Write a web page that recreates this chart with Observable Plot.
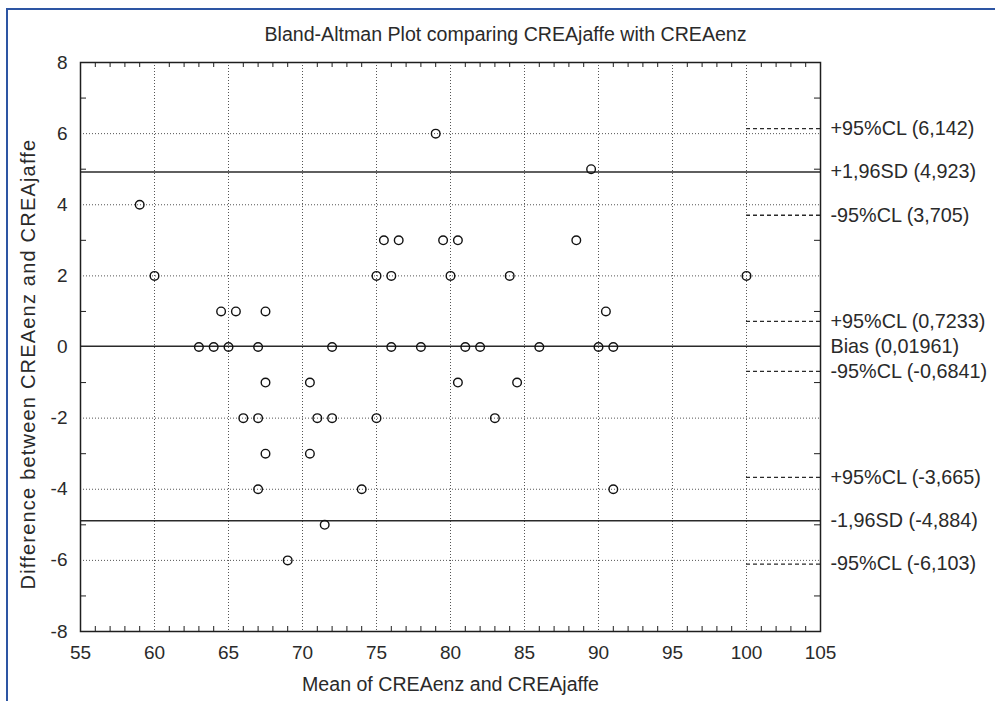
<!DOCTYPE html>
<html>
<head>
<meta charset="utf-8">
<script src="https://cdn.jsdelivr.net/npm/d3@7"></script>
<script src="https://cdn.jsdelivr.net/npm/@observablehq/plot@0.6"></script>
<style>
  html, body { margin: 0; padding: 0; background: #fff; overflow: hidden; }
  #wrap { position: relative; width: 995px; height: 701px; font-family: 'Liberation Sans', Arial, sans-serif; }
  #border { position: absolute; left: 6px; top: 8px; width: 1200px; height: 1200px;
            border-left: 2px solid #2d55a3; border-top: 2px solid #2d55a3; pointer-events: none; }
  #ylabel { position: absolute; left: 28px; top: 364px; transform: translate(-50%, -50%) rotate(-90deg);
            white-space: nowrap; font-size: 20px; letter-spacing: 1.2px; color: #2a2a2a; line-height: 1; }
</style>
</head>
<body>
<div id="wrap"><div id="border"></div><div id="ylabel"></div></div>
<script>
// ---- data ----
const titleText = "Bland-Altman Plot comparing CREAjaffe with CREAenz";
const xLabelText = "Mean of CREAenz and CREAjaffe";
const yLabelText = "Difference between CREAenz and CREAjaffe";

const xTicks = [55, 60, 65, 70, 75, 80, 85, 90, 95, 100, 105];
const yTicks = [-8, -6, -4, -2, 0, 2, 4, 6, 8];
const xGrid = [60, 65, 70, 75, 80, 85, 90, 95, 100];
const yGrid = [-6, -4, -2, 2, 4, 6];
const xMinor = [56,57,58,59,61,62,63,64,66,67,68,69,71,72,73,74,76,77,78,79,81,82,83,84,86,87,88,89,91,92,93,94,96,97,98,99,101,102,103,104];
const yMinor = [-7, -5, -3, -1, 1, 3, 5, 7];

const means = [79, 89.5, 59,
  75.5, 76.5, 79.5, 80.5, 88.5,
  60, 75, 76, 80, 84, 100,
  64.5, 65.5, 67.5, 90.5,
  63, 64, 65, 67, 72, 76, 78, 81, 82, 86, 90, 91,
  67.5, 70.5, 80.5, 84.5,
  66, 67, 71, 72, 75, 83,
  67.5, 70.5,
  67, 74, 91,
  71.5,
  69];
const diffs = [6, 5, 4,
  3, 3, 3, 3, 3,
  2, 2, 2, 2, 2, 2,
  1, 1, 1, 1,
  0, 0, 0, 0, 0, 0, 0, 0, 0, 0, 0, 0,
  -1, -1, -1, -1,
  -2, -2, -2, -2, -2, -2,
  -3, -3,
  -4, -4, -4,
  -5,
  -6];

const lineLabels = ["+95%CL (6,142)", "+1,96SD (4,923)", "-95%CL (3,705)",
  "+95%CL (0,7233)", "Bias (0,01961)", "-95%CL (-0,6841)",
  "+95%CL (-3,665)", "-1,96SD (-4,884)", "-95%CL (-6,103)"];
const lineValues = [6.142, 4.923, 3.705, 0.7233, 0.01961, -0.6841, -3.665, -4.884, -6.103];
const lineKinds = ["cl", "sd", "cl", "cl", "bias", "cl", "cl", "sd", "cl"];
const clFrom = 100, clTo = 105;

// ---- derived tables ----
const points = means.map((m, i) => ({mean: m, diff: diffs[i]}));
const lines = lineValues.map((v, i) => ({value: v, label: lineLabels[i], kind: lineKinds[i]}));
const solidLines = lines.filter(d => d.kind !== "cl");
const clLines = lines.filter(d => d.kind === "cl");

const W = 995, H = 701, ML = 80, MR = 175, MT = 62, MB = 70;
const frameW = W - ML - MR, frameH = H - MT - MB;
const tick = 5;
const ink = "#1e1e1e";
const textInk = "#2a2a2a";

const chart = Plot.plot({
  width: W, height: H,
  marginLeft: ML, marginRight: MR, marginTop: MT, marginBottom: MB,
  x: {domain: [55, 105]},
  y: {domain: [-8, 8]},
  style: {fontFamily: "'Liberation Sans', Arial, sans-serif", fontSize: "19px", color: ink, background: "transparent", overflow: "visible"},
  marks: [
    Plot.gridX(xGrid, {stroke: "#555", strokeOpacity: 1, strokeDasharray: "1,2", strokeWidth: 1}),
    Plot.gridY(yGrid, {stroke: "#555", strokeOpacity: 1, strokeDasharray: "1,2", strokeWidth: 1}),
    Plot.ruleY(solidLines, {y: "value", stroke: "#2a2a2a", strokeWidth: 1.6}),
    Plot.ruleY(clLines, {y: "value", x1: () => clFrom, x2: () => clTo, stroke: "#2a2a2a", strokeWidth: 1.3, strokeDasharray: "4,3"}),
    Plot.ruleX(xMinor, {x: d => d, insetTop: frameH - tick, stroke: ink}),
    Plot.ruleX(xMinor, {x: d => d, insetBottom: frameH - tick, stroke: ink}),
    Plot.ruleY(yMinor, {y: d => d, insetRight: frameW - tick - 1, stroke: ink}),
    Plot.ruleY(yMinor, {y: d => d, insetLeft: frameW - tick - 1, stroke: ink}),
    Plot.frame({stroke: ink, strokeWidth: 1.5}),
    Plot.dot(points, {x: "mean", y: "diff", r: 4.3, stroke: "#111", strokeWidth: 1.4, fill: "none"}),
    Plot.axisX({ticks: xTicks, tickSize: 0, tickPadding: 14, fontSize: 19, label: null, fill: textInk, tickFormat: d => String(d)}),
    Plot.axisY({ticks: yTicks, tickSize: 0, tickPadding: 13, fontSize: 19, label: null, fill: textInk, tickFormat: d => String(d)}),
    Plot.text(lines, {x: () => clTo, y: "value", text: "label", dx: 10, textAnchor: "start", fontSize: 19.8, fill: textInk}),
    Plot.text([titleText], {frameAnchor: "top", dx: 55, dy: -35, fontSize: 19.6, fill: textInk}),
    Plot.text([xLabelText], {frameAnchor: "bottom", dy: 59, fontSize: 19.6, fill: textInk})
  ]
});
document.getElementById("wrap").prepend(chart);
document.getElementById("ylabel").textContent = yLabelText;
</script>
</body>
</html>
